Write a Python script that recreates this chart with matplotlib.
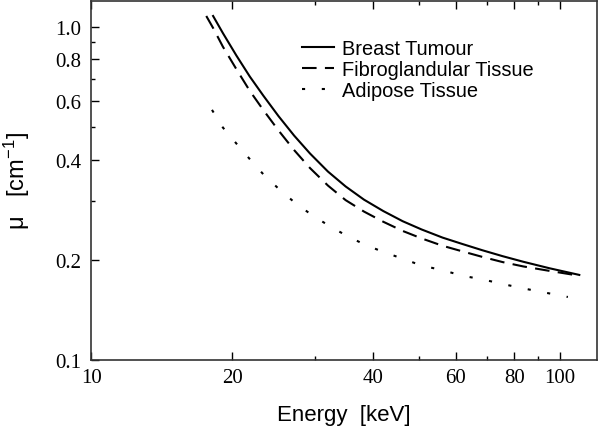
import numpy as np
import matplotlib
matplotlib.use("Agg")
import matplotlib.pyplot as plt
from matplotlib.ticker import FixedLocator, NullFormatter

plt.rcParams["font.family"] = "Liberation Serif"
plt.rcParams["mathtext.default"] = "regular"

# values (log-log)
e_tumour = [18.2, 19.1, 20.4, 21.8, 23.3, 25.1, 27.1, 29.3, 32.0, 34.9, 38.2,
            42.0, 46.2, 50.7, 56.2, 61.9, 68.4, 75.5, 83.5, 95.0, 110.0]
mu_tumour = [1.08, 0.959, 0.822, 0.710, 0.622, 0.540, 0.472, 0.417, 0.368, 0.332, 0.303,
             0.280, 0.261, 0.2465, 0.233, 0.223, 0.2134, 0.2049, 0.1972, 0.1885, 0.180]

e_fibro = [17.6, 18.2, 19.1, 20.4, 21.8, 23.3, 25.1, 27.1, 29.3, 32.0, 34.9, 38.2,
           42.0, 46.2, 50.7, 56.2, 61.9, 68.4, 75.5, 83.5, 95.0, 110.0]
mu_fibro = [1.08, 0.994, 0.873, 0.748, 0.643, 0.563, 0.489, 0.427, 0.377, 0.334, 0.302, 0.279,
            0.260, 0.244, 0.2317, 0.2202, 0.2119, 0.2038, 0.1967, 0.1909, 0.1851, 0.179]

e_adipose = [18.1, 19.1, 20.4, 21.8, 23.3, 25.1, 27.1, 29.3, 32.0, 34.9, 38.2, 42.0,
             46.2, 50.7, 56.2, 61.9, 68.4, 75.5, 83.5, 104.0]
mu_adipose = [0.564, 0.499, 0.447, 0.401, 0.361, 0.327, 0.298, 0.275, 0.254, 0.237, 0.2225, 0.211,
              0.2014, 0.192, 0.186, 0.179, 0.1745, 0.169, 0.164, 0.1545]

x_labels = [10, 20, 40, 60, 80, 100]
y_labels = [0.1, 0.2, 0.4, 0.6, 0.8, 1.0]

fig = plt.figure(figsize=(6, 4.39), dpi=100)
ax = fig.add_axes([0.152, 0.178, 0.843, 0.818])

ax.plot(e_tumour, mu_tumour, color="black", lw=1.5, label="Breast Tumour")
ax.plot(e_fibro, mu_fibro, color="black", lw=1.5, linestyle=(0, (7, 4)),
        label="Fibroglandular Tissue")
ax.plot(e_adipose, mu_adipose, color="black", lw=1.5, linestyle=(0, (1.5, 8)),
        label="Adipose Tissue")

ax.set_xscale("log")
ax.set_yscale("log")
ax.set_xlim(10, 120)
ax.set_ylim(0.1, 1.2)

ax.xaxis.set_major_locator(FixedLocator(x_labels))
ax.xaxis.set_minor_locator(FixedLocator([30, 50, 70, 90]))
ax.yaxis.set_major_locator(FixedLocator(y_labels))
ax.yaxis.set_minor_locator(FixedLocator([0.3, 0.5, 0.7, 0.9]))
ax.xaxis.set_minor_formatter(NullFormatter())
ax.yaxis.set_minor_formatter(NullFormatter())
ax.set_xticklabels([str(v) for v in x_labels])
ax.set_yticklabels(["%.1f" % v for v in y_labels])

ax.tick_params(which="both", direction="in", top=True, right=False, width=1)
ax.tick_params(which="major", length=6, labelsize=15)
ax.tick_params(axis="y", which="major", pad=7)
ax.tick_params(axis="x", which="major", pad=6)
ax.tick_params(which="minor", length=3)
for s in ax.spines.values():
    s.set_linewidth(1.2)
    s.set_color("#333333")

ax.set_xlabel("Energy  [keV]", family="Liberation Sans", fontsize=16, labelpad=12)
ax.set_ylabel("μ   [cm$^{-1}$]", family="Liberation Sans", fontsize=17, labelpad=17)

leg = ax.legend(loc="upper left", bbox_to_anchor=(0.40, 0.915), frameon=False,
                prop={"family": "Liberation Sans", "size": 14.4},
                handlelength=1.6, handletextpad=0.4, labelspacing=0.1,
                borderaxespad=0)

fig.savefig("out.png", dpi=100)
